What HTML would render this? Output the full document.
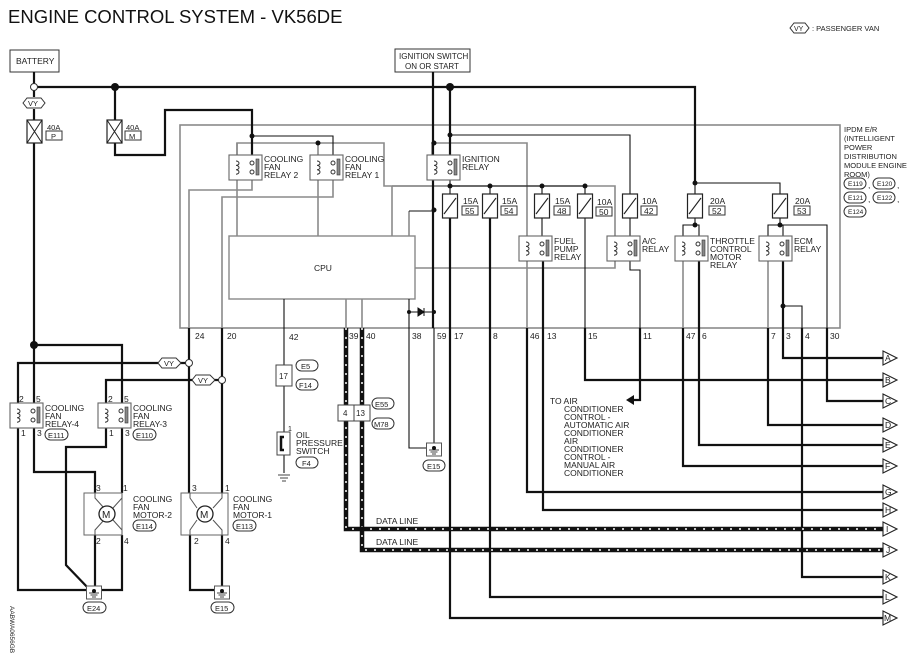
<!DOCTYPE html>
<html><head><meta charset="utf-8"><style>
html,body{margin:0;padding:0;background:#fff}
svg{display:block}
text{font-family:"Liberation Sans",sans-serif;font-size:8.5px;fill:#222}
.k{stroke:#111;stroke-width:2.2;fill:none}
.g{stroke:#8a8a8a;stroke-width:1.6;fill:none}
.t{stroke:#111;stroke-width:1.1;fill:none}
.b{fill:#fff;stroke:#666;stroke-width:1.1}
</style></head><body>
<svg width="921" height="665" viewBox="0 0 921 665" xmlns="http://www.w3.org/2000/svg">
<defs>
<g id="relay">
<rect x="0" y="0" width="33" height="25" class="b"/>
<path d="M7,6 a3,2.2 0 1 1 0,4.4 a3,2.2 0 1 1 0,4.4 a3,2.2 0 1 1 0,4.4" fill="none" stroke="#333" stroke-width="1"/>
<circle cx="23" cy="8" r="2" fill="#fff" stroke="#333"/>
<circle cx="23" cy="17" r="2" fill="#fff" stroke="#333"/>
<rect x="27" y="4" width="3" height="16" fill="#888" stroke="#333" stroke-width="0.6"/>
</g>
<g id="fuse">
<rect x="-7.5" y="0" width="15" height="24" fill="#fff" stroke="#222" stroke-width="1.2"/>
<line x1="-6" y1="20" x2="6" y2="4" stroke="#222" stroke-width="1.1"/>
</g>
<g id="arr"><path d="M0,-7 L14,0 L0,7 Z" fill="#fff" stroke="#222" stroke-width="1.1"/></g>
<g id="gnd"><rect x="-7.5" y="-6" width="15" height="13" fill="#fff" stroke="#555"/><line x1="-5" y1="1" x2="5" y2="1" stroke="#444"/><line x1="-3.5" y1="3" x2="3.5" y2="3" stroke="#444"/><line x1="-2" y1="5" x2="2" y2="5" stroke="#444"/><circle cx="0" cy="-1" r="2" fill="#111"/></g>
</defs>

<text x="8" y="23" style="font-size:18.5px;fill:#111">ENGINE CONTROL SYSTEM - VK56DE</text>
<path d="M790,28 l4,-5 h11 l4,5 l-4,5 h-11 z" fill="#fff" stroke="#333"/>
<text x="794" y="31" style="font-size:7px">VY</text>
<text x="812" y="31" style="font-size:7.5px">: PASSENGER VAN</text>

<rect x="10" y="50" width="49" height="22" fill="#fff" stroke="#333"/>
<text x="16" y="64">BATTERY</text>
<rect x="395" y="49" width="75" height="23" fill="#fff" stroke="#333"/>
<text x="399" y="59" style="font-size:8px">IGNITION SWITCH</text>
<text x="405" y="69" style="font-size:8px">ON OR START</text>

<rect x="180" y="125" width="660" height="203" class="g"/>
<text x="844" y="132" style="font-size:7.5px">IPDM E/R</text>
<text x="844" y="141" style="font-size:7.5px">(INTELLIGENT</text>
<text x="844" y="150" style="font-size:7.5px">POWER</text>
<text x="844" y="159" style="font-size:7.5px">DISTRIBUTION</text>
<text x="844" y="168" style="font-size:7.5px">MODULE ENGINE</text>
<text x="844" y="177" style="font-size:7.5px">ROOM)</text>
<g style="font-size:6.5px">
<rect x="844" y="178" width="22" height="11" rx="5.5" fill="#fff" stroke="#333"/><text x="848" y="186" style="font-size:6.5px">E119</text><text x="868" y="188">,</text>
<rect x="873" y="178" width="22" height="11" rx="5.5" fill="#fff" stroke="#333"/><text x="877" y="186" style="font-size:6.5px">E120</text><text x="897" y="188">,</text>
<rect x="844" y="192" width="22" height="11" rx="5.5" fill="#fff" stroke="#333"/><text x="848" y="200" style="font-size:6.5px">E121</text><text x="868" y="202">,</text>
<rect x="873" y="192" width="22" height="11" rx="5.5" fill="#fff" stroke="#333"/><text x="877" y="200" style="font-size:6.5px">E122</text><text x="897" y="202">,</text>
<rect x="844" y="206" width="22" height="11" rx="5.5" fill="#fff" stroke="#333"/><text x="848" y="214" style="font-size:6.5px">E124</text>
</g>

<path class="g" d="M237,180 V143 H384 V186 H460"/>
<path class="g" d="M392,186 H615 V268 H415"/>
<path class="g" d="M237,143 V236"/>
<path class="g" d="M318,143 V236"/>
<path class="g" d="M189,328 V190 H252 V178"/>
<path class="g" d="M222,328 V197 H333 V178"/>
<path class="g" d="M392,186 V236"/>
<path class="g" d="M432,180 V143 H527 V328"/>
<path class="g" d="M527,236 V262"/>
<path class="g" d="M615,236 V262"/>
<path class="g" d="M683,236 V328"/>
<path class="g" d="M768,236 V328"/>
<path class="g" d="M346,299 V328 M362,299 V328"/>
<path class="g" d="M409,211 V236"/>

<rect x="229" y="236" width="186" height="63" fill="#fff" stroke="#888" stroke-width="1.4"/>
<text x="314" y="271">CPU</text>

<path class="k" d="M34,72 V84"/>
<path class="k" d="M37,87 H695 V183"/>
<path class="k" d="M34,90 V97 M34,109 V120 M34,143 V403"/>
<path class="k" d="M115,87 V120 M115,143 V155 H165 V110 H252 V155"/>
<path class="t" d="M252,136 H333 V155"/>
<path class="k" d="M433,72 V328"/>
<path class="k" d="M450,87 V155"/>
<path class="t" d="M450,135 H630 V194"/>
<path class="t" d="M450,180 V194 M450,186 H585 V194 M490,186 V194 M542,186 V194"/>
<path class="t" d="M409,211 H434"/>
<path class="k" d="M450,218 V328"/>
<path class="k" d="M490,218 V328"/>
<path class="t" d="M542,218 V240"/>
<path class="k" d="M543,258 V328"/>
<path class="t" d="M585,218 V328"/>
<path class="t" d="M630,218 V240"/>
<path class="t" d="M630,258 V270 H640 V328"/>
<path class="t" d="M695,183 H780 V194"/>
<path class="t" d="M695,183 V194"/>
<path class="t" d="M695,218 V225 H683 V236 M695,225 H699 V240"/>
<path class="k" d="M699,258 V328"/>
<path class="t" d="M780,218 V225 H768 V236 M780,225 H827 V328 M780,225 H783 V240"/>
<path class="k" d="M783,258 V328"/>
<path class="t" d="M783,306 H802 V328"/>
<path class="t" d="M284,299 V328"/>
<path class="t" d="M409,312 H434"/>
<path d="M418,308 L424,312 L418,316 Z M424,308 V316" fill="#111" stroke="#111"/>
<path class="t" d="M409,299 V328"/>

<g fill="#111">
<circle cx="115" cy="87" r="4"/><circle cx="450" cy="87" r="4"/>
<circle cx="252" cy="136" r="2.5"/><circle cx="318" cy="143" r="2.5"/>
<circle cx="434" cy="143" r="2.5"/><circle cx="450" cy="135" r="2.5"/>
<circle cx="450" cy="186" r="2.5"/><circle cx="490" cy="186" r="2.5"/>
<circle cx="542" cy="186" r="2.5"/><circle cx="585" cy="186" r="2.5"/>
<circle cx="434" cy="210" r="2.5"/><circle cx="695" cy="183" r="2.5"/>
<circle cx="695" cy="225" r="2.5"/><circle cx="780" cy="225" r="2.5"/>
<circle cx="783" cy="306" r="2.5"/><circle cx="409" cy="312" r="2"/><circle cx="434" cy="312" r="2"/>
<circle cx="34" cy="345" r="4"/>
</g>
<circle cx="34" cy="87" r="3.5" fill="#fff" stroke="#333"/>
<path d="M23,103 l4,-5 h14 l4,5 l-4,5 h-14 z" fill="#fff" stroke="#333"/><text x="28" y="106" style="font-size:7.5px">VY</text>

<g><rect x="27" y="120" width="15" height="23" fill="#fff" stroke="#222" stroke-width="1.2"/><path d="M27,120 L42,143 M42,120 L27,143" stroke="#222"/></g>
<text x="47" y="130" style="font-size:7.5px">40A</text><rect x="46" y="131" width="16" height="9" fill="#fff" stroke="#333"/><text x="51" y="139" style="font-size:7.5px">P</text>
<g><rect x="107" y="120" width="15" height="23" fill="#fff" stroke="#222" stroke-width="1.2"/><path d="M107,120 L122,143 M122,120 L107,143" stroke="#222"/></g>
<text x="126" y="130" style="font-size:7.5px">40A</text><rect x="125" y="131" width="16" height="9" fill="#fff" stroke="#333"/><text x="129" y="139" style="font-size:7.5px">M</text>

<use href="#relay" x="229" y="155"/>
<text x="264" y="162">COOLING</text><text x="264" y="170">FAN</text><text x="264" y="178">RELAY 2</text>
<use href="#relay" x="310" y="155"/>
<text x="345" y="162">COOLING</text><text x="345" y="170">FAN</text><text x="345" y="178">RELAY 1</text>
<use href="#relay" x="427" y="155"/>
<text x="462" y="162">IGNITION</text><text x="462" y="170">RELAY</text>
<use href="#relay" x="519" y="236"/>
<text x="554" y="244">FUEL</text><text x="554" y="252">PUMP</text><text x="554" y="260">RELAY</text>
<use href="#relay" x="607" y="236"/>
<text x="642" y="244">A/C</text><text x="642" y="252">RELAY</text>
<use href="#relay" x="675" y="236"/>
<text x="710" y="244">THROTTLE</text><text x="710" y="252">CONTROL</text><text x="710" y="260">MOTOR</text><text x="710" y="268">RELAY</text>
<use href="#relay" x="759" y="236"/>
<text x="794" y="244">ECM</text><text x="794" y="252">RELAY</text>

<g style="font-size:7.5px">
<use href="#fuse" x="450" y="194"/><text x="463" y="204">15A</text><rect x="462" y="206" width="16" height="9" fill="#fff" stroke="#333"/><text x="465" y="214">55</text>
<use href="#fuse" x="490" y="194"/><text x="502" y="204">15A</text><rect x="501" y="206" width="16" height="9" fill="#fff" stroke="#333"/><text x="504" y="214">54</text>
<use href="#fuse" x="542" y="194"/><text x="555" y="204">15A</text><rect x="554" y="206" width="16" height="9" fill="#fff" stroke="#333"/><text x="557" y="214">48</text>
<use href="#fuse" x="585" y="194"/><text x="597" y="205">10A</text><rect x="596" y="207" width="16" height="9" fill="#fff" stroke="#333"/><text x="599" y="215">50</text>
<use href="#fuse" x="630" y="194"/><text x="642" y="204">10A</text><rect x="641" y="206" width="16" height="9" fill="#fff" stroke="#333"/><text x="644" y="214">42</text>
<use href="#fuse" x="695" y="194"/><text x="710" y="204">20A</text><rect x="709" y="206" width="16" height="9" fill="#fff" stroke="#333"/><text x="712" y="214">52</text>
<use href="#fuse" x="780" y="194"/><text x="795" y="204">20A</text><rect x="794" y="206" width="16" height="9" fill="#fff" stroke="#333"/><text x="797" y="214">53</text>
</g>

<g style="font-size:8px">
<text x="195" y="339">24</text><text x="227" y="339">20</text><text x="289" y="340">42</text><text x="349" y="339">39</text><text x="366" y="339">40</text>
<text x="412" y="339">38</text><text x="437" y="339">59</text><text x="454" y="339">17</text><text x="493" y="339">8</text>
<text x="530" y="339">46</text><text x="547" y="339">13</text><text x="588" y="339">15</text><text x="643" y="339">11</text>
<text x="686" y="339">47</text><text x="702" y="339">6</text><text x="771" y="339">7</text><text x="786" y="339">3</text><text x="805" y="339">4</text><text x="830" y="339">30</text>
</g>

<path class="k" d="M783,328 V358 H883"/>
<path class="k" d="M585,328 V380 H883"/>
<path class="k" d="M827,328 V401 H883"/>
<path class="k" d="M768,328 V425 H883"/>
<path class="k" d="M699,328 V445 H883"/>
<path class="k" d="M683,328 V466 H883"/>
<path class="k" d="M527,328 V492 H883"/>
<path class="k" d="M543,328 V510 H883"/>
<path class="k" d="M802,328 V577 H883"/>
<path class="k" d="M490,328 V597 H883"/>
<path class="k" d="M450,328 V618 H883"/>
<path class="k" d="M640,328 V400 H632"/>
<path d="M626,400 L634,395 L634,405 Z" fill="#111"/>
<path d="M346,328 V529 H883 M362,328 V550 H883" stroke="#111" stroke-width="4.5" fill="none"/>
<path d="M346,328 V529 H883 M362,328 V550 H883" stroke="#fff" stroke-width="1.5" fill="none" stroke-dasharray="2,7"/>
<circle cx="362" cy="529" r="2.5" fill="#111"/>
<text x="376" y="524">DATA LINE</text>
<text x="376" y="545">DATA LINE</text>
<g style="font-size:7.5px">
<use href="#arr" x="883" y="358"/><text x="885" y="361">A</text>
<use href="#arr" x="883" y="380"/><text x="885" y="383">B</text>
<use href="#arr" x="883" y="401"/><text x="885" y="404">C</text>
<use href="#arr" x="883" y="425"/><text x="885" y="428">D</text>
<use href="#arr" x="883" y="445"/><text x="885" y="448">E</text>
<use href="#arr" x="883" y="466"/><text x="885" y="469">F</text>
<use href="#arr" x="883" y="492"/><text x="885" y="495">G</text>
<use href="#arr" x="883" y="510"/><text x="885" y="513">H</text>
<use href="#arr" x="883" y="529"/><text x="886" y="532">I</text>
<use href="#arr" x="883" y="550"/><text x="886" y="553">J</text>
<use href="#arr" x="883" y="577"/><text x="885" y="580">K</text>
<use href="#arr" x="883" y="597"/><text x="885" y="600">L</text>
<use href="#arr" x="883" y="618"/><text x="884" y="621">M</text>
</g>
<g style="font-size:8px">
<text x="550" y="404">TO AIR</text>
<text x="564" y="412">CONDITIONER</text><text x="564" y="420">CONTROL -</text><text x="564" y="428">AUTOMATIC AIR</text>
<text x="564" y="436">CONDITIONER</text><text x="564" y="444">AIR</text><text x="564" y="452">CONDITIONER</text>
<text x="564" y="460">CONTROL -</text><text x="564" y="468">MANUAL AIR</text><text x="564" y="476">CONDITIONER</text>
</g>

<path class="t" d="M409,328 V448 H434"/>
<path class="t" d="M434,328 V448"/>
<use href="#gnd" x="434" y="449"/>
<rect x="423" y="460" width="22" height="11" rx="5.5" fill="#fff" stroke="#333"/><text x="427" y="469" style="font-size:7.5px">E15</text>

<path class="t" d="M284,328 V473"/>
<rect x="276" y="365" width="16" height="21" fill="#fff" stroke="#444"/><text x="279" y="379" style="font-size:8px">17</text>
<rect x="296" y="360" width="22" height="11" rx="5.5" fill="#fff" stroke="#333"/><text x="301" y="369" style="font-size:7.5px">E5</text>
<rect x="296" y="379" width="22" height="11" rx="5.5" fill="#fff" stroke="#333"/><text x="299" y="388" style="font-size:7.5px">F14</text>
<rect x="277" y="432" width="13" height="23" fill="#fff" stroke="#444"/><path d="M284,437 H281 V450 H284" stroke="#111" stroke-width="2.5" fill="none"/>
<text x="288" y="431" style="font-size:7px">1</text>
<text x="296" y="438">OIL</text><text x="296" y="446">PRESSURE</text><text x="296" y="454">SWITCH</text>
<rect x="296" y="457" width="22" height="11" rx="5.5" fill="#fff" stroke="#333"/><text x="302" y="466" style="font-size:7.5px">F4</text>
<path d="M278,475 H290 M280,478 H288 M282,481 H286" stroke="#444"/>
<rect x="338" y="405" width="32" height="16" fill="#fff" stroke="#444"/><line x1="354" y1="405" x2="354" y2="421" stroke="#444"/>
<text x="343" y="416" style="font-size:8px">4</text><text x="356" y="416" style="font-size:8px">13</text>
<rect x="372" y="398" width="22" height="11" rx="5.5" fill="#fff" stroke="#333"/><text x="375" y="407" style="font-size:7.5px">E55</text>
<rect x="372" y="418" width="22" height="11" rx="5.5" fill="#fff" stroke="#333"/><text x="374" y="427" style="font-size:7.5px">M78</text>

<path class="k" d="M189,328 V493"/>
<path class="k" d="M222,328 V493"/>
<path class="k" d="M34,345 H122 V403"/>
<path class="k" d="M186,363 H18 V403"/>
<path class="k" d="M219,380 H106 V403"/>
<path class="k" d="M34,427 V472 H95 V493"/>
<path class="k" d="M122,427 V493"/>
<path class="k" d="M18,427 V590 H90"/>
<path class="k" d="M106,427 V447 H66 V565 L90,590"/>
<path class="k" d="M95,535 V590 M122,535 V590 H100"/>
<path class="k" d="M190,535 V590 H222 M222,535 V590"/>
<circle cx="189" cy="363" r="3.5" fill="#fff" stroke="#333"/>
<circle cx="222" cy="380" r="3.5" fill="#fff" stroke="#333"/>
<path d="M158,363 l4,-5 h14 l5,5 l-5,5 h-14 z" fill="#fff" stroke="#333"/><text x="164" y="366" style="font-size:7.5px">VY</text>
<path d="M192,380 l4,-5 h14 l5,5 l-5,5 h-14 z" fill="#fff" stroke="#333"/><text x="198" y="383" style="font-size:7.5px">VY</text>

<use href="#relay" x="10" y="403"/>
<use href="#relay" x="98" y="403"/>
<g style="font-size:7px">
<text x="19" y="402">2</text><text x="36" y="402">5</text><text x="21" y="436">1</text><text x="37" y="436">3</text>
<text x="108" y="402">2</text><text x="124" y="402">5</text><text x="109" y="436">1</text><text x="125" y="436">3</text>
</g>
<text x="45" y="411">COOLING</text><text x="45" y="419">FAN</text><text x="45" y="427">RELAY-4</text>
<rect x="45" y="429" width="23" height="11" rx="5.5" fill="#fff" stroke="#333"/><text x="48" y="438" style="font-size:7.5px">E111</text>
<text x="133" y="411">COOLING</text><text x="133" y="419">FAN</text><text x="133" y="427">RELAY-3</text>
<rect x="133" y="429" width="23" height="11" rx="5.5" fill="#fff" stroke="#333"/><text x="136" y="438" style="font-size:7.5px">E110</text>

<g>
<rect x="84" y="493" width="38" height="42" fill="#fff" stroke="#666"/>
<path d="M95,493 V498 L104,508 M122,493 V498 L113,508 M95,535 V530 L104,520 M122,535 V530 L113,520" stroke="#555" fill="none"/>
<circle cx="107" cy="514" r="8" fill="#fff" stroke="#222" stroke-width="1.3"/><text x="102" y="518" style="font-size:10px">M</text>
</g>
<g>
<rect x="181" y="493" width="47" height="42" fill="#fff" stroke="#666"/>
<path d="M190,493 V498 L197,508 M222,493 V498 L213,508 M190,535 V530 L197,520 M222,535 V530 L213,520" stroke="#555" fill="none"/>
<circle cx="205" cy="514" r="8" fill="#fff" stroke="#222" stroke-width="1.3"/><text x="200" y="518" style="font-size:10px">M</text>
</g>
<g style="font-size:7px">
<text x="96" y="491">3</text><text x="123" y="491">1</text><text x="96" y="544">2</text><text x="124" y="544">4</text>
<text x="192" y="491">3</text><text x="225" y="491">1</text><text x="194" y="544">2</text><text x="225" y="544">4</text>
</g>
<text x="133" y="502">COOLING</text><text x="133" y="510">FAN</text><text x="133" y="518">MOTOR-2</text>
<rect x="133" y="520" width="23" height="11" rx="5.5" fill="#fff" stroke="#333"/><text x="136" y="529" style="font-size:7.5px">E114</text>
<text x="233" y="502">COOLING</text><text x="233" y="510">FAN</text><text x="233" y="518">MOTOR-1</text>
<rect x="233" y="520" width="23" height="11" rx="5.5" fill="#fff" stroke="#333"/><text x="236" y="529" style="font-size:7.5px">E113</text>

<use href="#gnd" x="94" y="592"/>
<rect x="83" y="602" width="23" height="11" rx="5.5" fill="#fff" stroke="#333"/><text x="87" y="611" style="font-size:7.5px">E24</text>
<use href="#gnd" x="222" y="592"/>
<rect x="211" y="602" width="23" height="11" rx="5.5" fill="#fff" stroke="#333"/><text x="215" y="611" style="font-size:7.5px">E15</text>

<text transform="translate(10,606) rotate(90)" style="font-size:6.5px">AABWA0656GB</text>
</svg>
</body></html>
